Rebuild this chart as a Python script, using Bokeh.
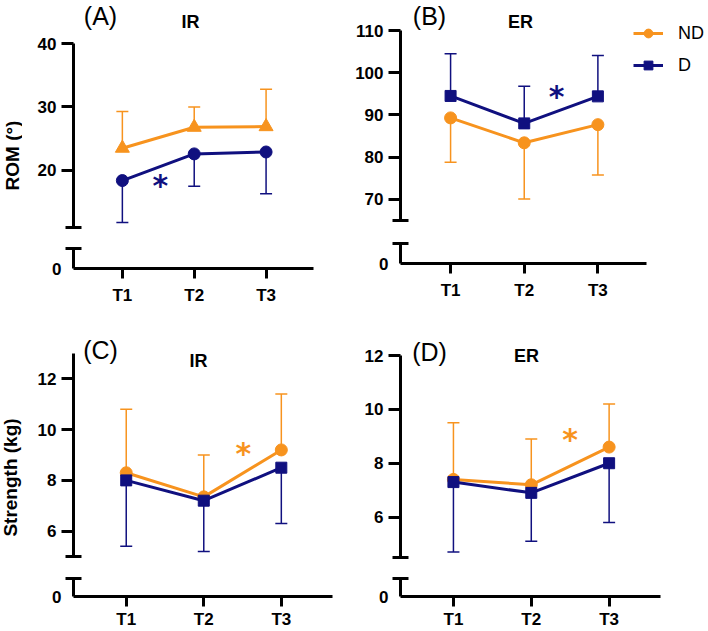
from math import pi
from bokeh.plotting import figure
from bokeh.layouts import row, column
from bokeh.models import (Range1d, FixedTicker, LinearAxis, Whisker, ColumnDataSource,
                          Label, Legend, LegendItem, TeeHead)
from bokeh.core.properties import value
from bokeh.embed import file_html
from bokeh.resources import INLINE

times = ["T1", "T2", "T3"]
time_pos = [1, 2, 3]
groups = ["ND", "D"]

# (A) ROM, internal rotation (mean, SD)
rom_ir_nd_mean = [23.5, 26.8, 26.9]
rom_ir_nd_sd = [5.8, 3.2, 5.9]
rom_ir_d_mean = [18.4, 22.6, 22.9]
rom_ir_d_sd = [6.6, 5.1, 6.6]
# (B) ROM, external rotation
rom_er_nd_mean = [89.3, 83.4, 87.7]
rom_er_nd_sd = [10.5, 13.3, 11.9]
rom_er_d_mean = [94.5, 88.0, 94.4]
rom_er_d_sd = [10.0, 8.8, 9.7]
# (C) Strength, internal rotation
str_ir_nd_mean = [8.3, 7.35, 9.2]
str_ir_nd_sd = [2.5, 1.65, 2.2]
str_ir_d_mean = [8.0, 7.2, 8.5]
str_ir_d_sd = [2.6, 2.0, 2.2]
# (D) Strength, external rotation
str_er_nd_mean = [7.4, 7.2, 8.6]
str_er_nd_sd = [2.1, 1.7, 1.6]
str_er_d_mean = [7.3, 6.9, 8.0]
str_er_d_sd = [2.6, 1.8, 2.2]

# y-axis ticks of the upper (broken) segments
rom_ir_ticks = [20, 30, 40]
rom_er_ticks = [70, 80, 90, 100, 110]
str_ir_ticks = [6, 8, 10, 12]
str_er_ticks = [6, 8, 10, 12]

# significance asterisks (x in time units, y in data units)
star_a = (1.53, 17.9)
star_b = (2.44, 94.8)
star_c = (2.51, 9.15)
star_d = (2.50, 8.96)

FONT = "Liberation Sans"
ORANGE = "#F7931E"
NAVY = "#10107F"
X0, X1 = 0.32, 3.66


def style_axis(ax, size="17px"):
    ax.axis_line_width = 3
    ax.axis_line_color = "black"
    ax.major_tick_line_width = 3
    ax.major_tick_line_color = "black"
    ax.minor_tick_line_width = 3
    ax.minor_tick_line_color = "black"
    ax.major_tick_in = 0
    ax.major_label_text_font = FONT
    ax.major_label_text_font_style = "bold"
    ax.major_label_text_font_size = size
    ax.major_label_text_color = "black"


def base_fig(w, h, xr, yr, left, right, top, bottom):
    p = figure(width=w, height=h, x_range=xr, y_range=yr,
               x_axis_location=None, y_axis_location=None,
               toolbar_location=None, output_backend="svg",
               min_border_left=left, min_border_right=right,
               min_border_top=top, min_border_bottom=bottom)
    p.outline_line_color = None
    p.background_fill_color = "white"
    p.border_fill_color = "white"
    p.grid.visible = False
    return p


def add_err(p, mean, sd, direction, color):
    end = [m + direction * s for m, s in zip(mean, sd)]
    src = ColumnDataSource(dict(x=time_pos,
                                lo=[min(a, b) for a, b in zip(mean, end)],
                                hi=[max(a, b) for a, b in zip(mean, end)]))
    head = TeeHead(size=12, line_color=color, line_width=1.5)
    if direction > 0:
        w = Whisker(source=src, base="x", lower="lo", upper="hi",
                    upper_head=head, lower_head=None)
    else:
        w = Whisker(source=src, base="x", lower="lo", upper="hi",
                    lower_head=head, upper_head=None)
    w.line_color = color
    w.line_width = 1.5
    p.add_layout(w)


def add_series(p, mean, marker, color, size):
    r1 = p.line(time_pos, mean, line_color=color, line_width=3)
    r2 = p.scatter(time_pos, mean, marker=marker, size=size,
                   fill_color=color, line_color=color)
    return [r1, r2]


def label_fig(text, w, h, pos):
    p = base_fig(w, h, Range1d(0, 1), Range1d(0, 1), 0, 0, 0, 0)
    p.add_layout(Label(x=pos[0], y=pos[1], x_units="screen", y_units="screen",
                       text=text, angle=pi / 2, text_font=FONT,
                       text_font_style="bold", text_font_size="19px",
                       text_align="center", text_baseline="middle",
                       text_color="black"))
    return p


def panel(letter, title, nd_mean, nd_sd, nd_dir, nd_marker, nd_size,
          d_mean, d_sd, d_dir, d_marker, d_size,
          y_lo, y_hi, ticks, star, star_color, g, letter_pos, title_pos,
          legend=False, x_standoff=7):
    left, fw, right, top, fh, gap, bottom = g
    ppu_x = fw / (X1 - X0)
    ppu_y = fh / (y_hi - y_lo)
    # frames run to the right edge of the canvas; the x axis line is bounded
    xr = Range1d(X0, X0 + (fw + right) / ppu_x)
    # upper segment: frame extends to the canvas top (no x axis drawn)
    up = base_fig(left + fw + right, top + fh + gap, xr,
                  Range1d(y_lo, y_lo + (top + fh) / ppu_y),
                  left, 0, 0, gap)
    yax = LinearAxis(ticker=FixedTicker(ticks=ticks, minor_ticks=[y_lo]),
                     bounds=(y_lo, y_hi))
    style_axis(yax)
    yax.major_tick_out = 12
    yax.minor_tick_in = 8
    yax.minor_tick_out = 8
    yax.major_label_standoff = 5
    up.add_layout(yax, "left")

    add_err(up, nd_mean, nd_sd, nd_dir, ORANGE)
    add_err(up, d_mean, d_sd, d_dir, NAVY)
    nd_r = add_series(up, nd_mean, nd_marker, ORANGE, nd_size)
    d_r = add_series(up, d_mean, d_marker, NAVY, d_size)

    up.text(x=[star[0]], y=[star[1]], text=["*"], text_font=value("DejaVu Sans"),
            text_font_style="bold", text_font_size="30px", text_color=star_color,
            text_align="center", text_baseline="middle", y_offset=2)

    up.add_layout(Label(x=letter_pos[0], y=letter_pos[1], x_units="screen", y_units="screen",
                        text=letter, text_font=FONT, text_font_size="25px",
                        text_align="center", text_baseline="middle", text_color="black"))
    up.add_layout(Label(x=title_pos[0], y=title_pos[1], x_units="screen", y_units="screen",
                        text=title, text_font=FONT, text_font_style="bold",
                        text_font_size="18px", text_align="center",
                        text_baseline="middle", text_color="black"))
    if legend:
        leg = Legend(items=[LegendItem(label=groups[0], renderers=nd_r),
                            LegendItem(label=groups[1], renderers=d_r)],
                     location=(233, 144))
        leg.glyph_width = 30
        leg.glyph_height = 22
        leg.label_height = 22
        leg.spacing = 10
        leg.padding = 0
        leg.margin = 0
        leg.label_standoff = 15
        leg.label_text_font = FONT
        leg.label_text_font_size = "18px"
        leg.label_text_color = "black"
        leg.border_line_color = None
        leg.background_fill_alpha = 0
        up.add_layout(leg)

    lo = base_fig(left + fw + right, 24 + bottom, xr, Range1d(0, 1.2),
                  left, 0, 0, bottom)
    ly = LinearAxis(ticker=FixedTicker(ticks=[0], minor_ticks=[1]), bounds=(0, 1))
    style_axis(ly)
    ly.major_tick_out = 0
    ly.minor_tick_in = 8
    ly.minor_tick_out = 8
    ly.major_label_standoff = 4
    lo.add_layout(ly, "left")
    lx = LinearAxis(ticker=FixedTicker(ticks=time_pos), bounds=(X0, X1),
                    major_label_overrides={k: v for k, v in zip(time_pos, times)})
    style_axis(lx)
    lx.major_tick_out = 10
    lx.major_label_standoff = x_standoff
    lo.add_layout(lx, "below")
    return column(up, lo, spacing=0)


LAB_W = 22
pa = panel("(A)", "IR", rom_ir_nd_mean, rom_ir_nd_sd, 1, "triangle", 14,
           rom_ir_d_mean, rom_ir_d_sd, -1, "circle", 12,
           11, 40, rom_ir_ticks, star_a, NAVY,
           (73 - LAB_W, 240, 27, 43, 184, 17, 47), (27, 212), (117, 206))
pb = panel("(B)", "ER", rom_er_nd_mean, rom_er_nd_sd, -1, "circle", 12,
           rom_er_d_mean, rom_er_d_sd, 1, "square", 11,
           65, 110, rom_er_ticks, star_b, NAVY,
           (60, 246, 62, 30, 190, 19, 52), (29, 205), (120, 199), legend=True)
pc = panel("(C)", "IR", str_ir_nd_mean, str_ir_nd_sd, 1, "circle", 12,
           str_ir_d_mean, str_ir_d_sd, -1, "square", 11,
           5, 13, str_ir_ticks, star_c, ORANGE,
           (73 - LAB_W, 259, 8, 38, 203, 18, 33), (27, 207), (125, 196), x_standoff=3)
pd_ = panel("(D)", "ER", str_er_nd_mean, str_er_nd_sd, 1, "circle", 12,
            str_er_d_mean, str_er_d_sd, -1, "square", 11,
            4.5, 12, str_er_ticks, star_d, ORANGE,
            (60, 260, 48, 40, 202, 17, 33), (29, 206), (126, 202), x_standoff=3)

lab_a = label_fig("ROM (°)", LAB_W, 315, (11.5, 315 - 155))
lab_c = label_fig("Strength (kg)", LAB_W, 316, (10, 316 - 162))

layout = column(row(lab_a, pa, pb, spacing=0), row(lab_c, pc, pd_, spacing=0), spacing=0)

open("out.html", "w").write(file_html(layout, INLINE))
